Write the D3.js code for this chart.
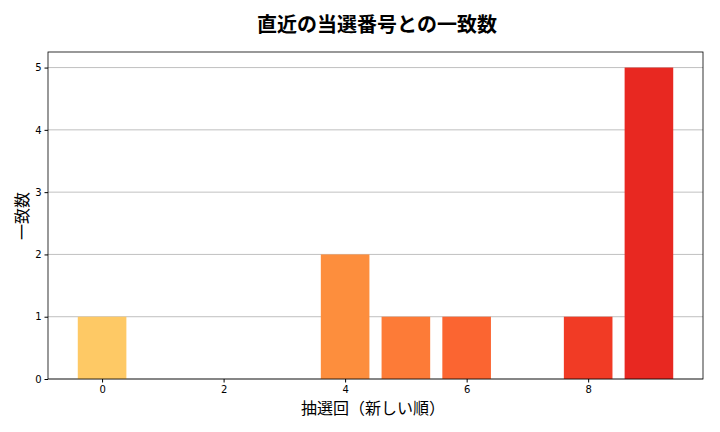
<!DOCTYPE html>
<html><head><meta charset="utf-8">
<script src="https://cdn.jsdelivr.net/npm/d3@7"></script>
<style>body{margin:0;background:#fff;font-family:"Noto Sans CJK JP","DejaVu Sans",sans-serif;}</style>
</head><body><svg width="720" height="432"></svg>
<script>
var draws = [0, 1, 2, 3, 4, 5, 6, 7, 8, 9];
var matches = [1, 0, 0, 0, 2, 1, 1, 0, 1, 5];
var xTicks = [0, 2, 4, 6, 8];
var yTicks = [0, 1, 2, 3, 4, 5];

var svg = d3.select("svg");
var margin = {top: 52, right: 17, bottom: 53, left: 48};
var width = 720 - margin.left - margin.right;
var height = 432 - margin.top - margin.bottom;
var g = svg.append("g").attr("transform", "translate(" + margin.left + "," + margin.top + ")");

var x = d3.scaleLinear().domain([-0.89, 9.89]).range([0, width]);
var y = d3.scaleLinear().domain([0, 5.25]).range([height, 0]);

// grid
g.selectAll(".grid").data(yTicks).enter().append("line")
    .attr("x1", 0).attr("x2", width)
    .attr("y1", function(d) { return y(d); }).attr("y2", function(d) { return y(d); })
    .attr("stroke", "#b0b0b0").attr("stroke-width", 0.8);

g.selectAll(".bar").data(draws).enter().append("rect")
    .attr("x", function(d) { return x(d - 0.4); })
    .attr("width", x(0.8) - x(0))
    .attr("y", function(d, i) { return y(matches[i]); })
    .attr("height", function(d, i) { return y(0) - y(matches[i]); })
    .attr("fill", function(d, i) { return d3.interpolateYlOrRd(0.3 + 0.42 * i / 9); });

var xa = g.append("g").attr("transform", "translate(0," + height + ")")
    .call(d3.axisBottom(x).tickValues(xTicks).tickSize(3.5).tickFormat(d3.format("d")));
var ya = g.append("g").call(d3.axisLeft(y).tickValues(yTicks).tickSize(3.5).tickFormat(d3.format("d")));
[xa, ya].forEach(function(a) {
    a.select(".domain").remove();
    a.selectAll("text").attr("font-size", 10).attr("fill", "#000").attr("font-family", "DejaVu Sans");
    a.selectAll("line").attr("stroke", "#000");
});
g.append("rect").attr("width", width).attr("height", height)
    .attr("fill", "none").attr("stroke", "#000").attr("stroke-width", 0.8);

svg.append("text").attr("x", 377).attr("y", 32).attr("text-anchor", "middle")
    .attr("font-size", 20).attr("font-weight", "bold").text("直近の当選番号との一致数");
svg.append("text").attr("x", 373).attr("y", 414).attr("text-anchor", "middle")
    .attr("font-size", 16).text("抽選回（新しい順）");
svg.append("text").attr("transform", "translate(28,216) rotate(-90)").attr("text-anchor", "middle")
    .attr("font-size", 16).text("一致数");
</script></body></html>
